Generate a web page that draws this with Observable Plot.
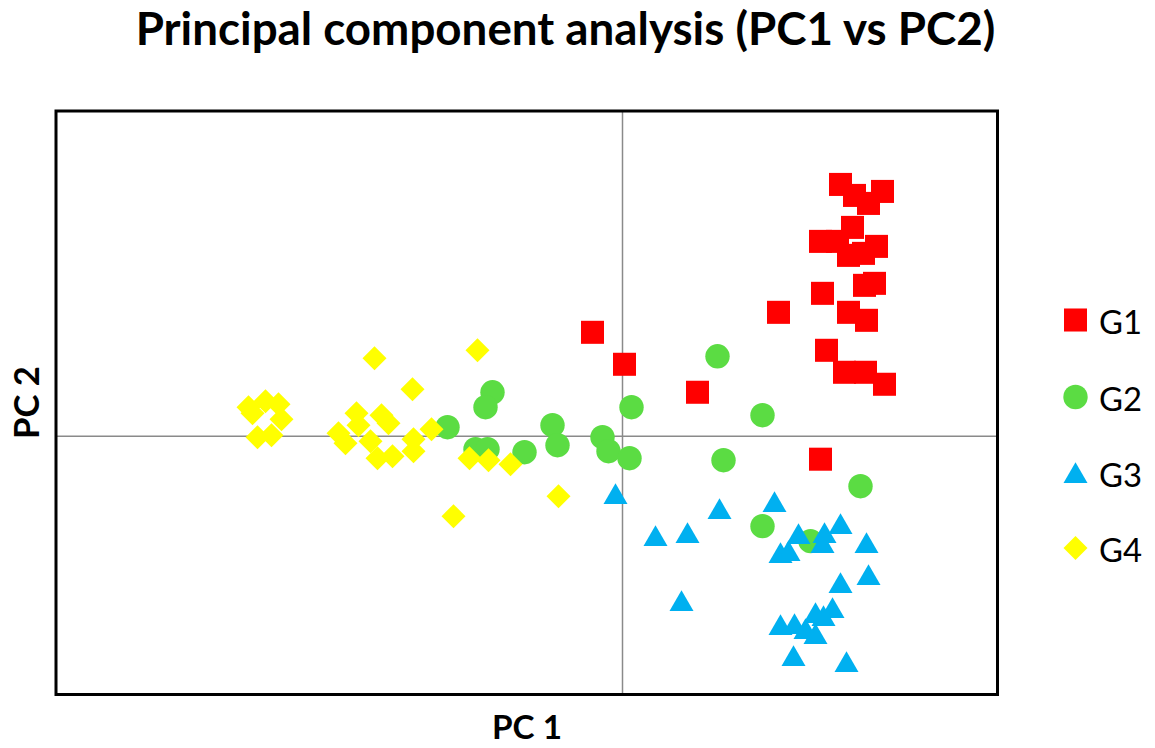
<!DOCTYPE html>
<html><head><meta charset="utf-8">
<script src="https://cdn.jsdelivr.net/npm/d3@7"></script>
<script src="https://cdn.jsdelivr.net/npm/@observablehq/plot@0.6"></script>
<style>html,body{margin:0;padding:0;background:#fff;} svg{display:block;}</style>
</head><body><div id="chart"></div>
<script>
// ---- data (PC scores) ----
const groups = ["G1", "G2", "G3", "G4"];

const g1PC1 = [2.18, 2.32, 2.60, 2.46, 2.30, 1.98, 2.15, 2.54, 2.26, 2.41, 2.42, 2.52, 2.00, 1.56, 2.26, 2.44, 2.04, 2.22, 2.43, 2.62, -0.30, 0.02, 0.75, 1.98];
const g1PC2 = [2.52, 2.41, 2.45, 2.33, 2.09, 1.95, 1.95, 1.90, 1.81, 1.83, 1.51, 1.53, 1.43, 1.24, 1.24, 1.16, 0.86, 0.64, 0.64, 0.52, 1.04, 0.72, 0.44, -0.23];

const g2PC1 = [0.95, 0.09, 1.40, -0.20, -0.14, 0.07, 1.01, 2.38, 1.40, 1.88, -1.30, -1.37, -1.75, -1.47, -1.35, -0.98, -0.70, -0.65];
const g2PC2 = [0.80, 0.29, 0.21, -0.01, -0.15, -0.22, -0.24, -0.50, -0.90, -1.05, 0.44, 0.29, 0.09, -0.13, -0.13, -0.16, 0.11, -0.09];

const g3PC1 = [-0.07, 0.97, 1.52, 0.33, 0.65, 1.76, 1.58, 1.66, 2.02, 2.00, 2.18, 2.44, 2.46, 2.18, 0.59, 1.58, 1.72, 1.93, 2.10, 2.01, 1.83, 1.93, 1.71, 2.24];
const g3PC2 = [-0.61, -0.76, -0.69, -1.03, -1.00, -1.01, -1.20, -1.18, -1.00, -1.10, -0.91, -1.10, -1.42, -1.50, -1.68, -1.92, -1.91, -1.80, -1.75, -1.83, -1.96, -2.01, -2.23, -2.29];

const g4PC1 = [-2.48, -2.10, -3.74, -3.57, -3.44, -3.70, -3.41, -3.65, -3.51, -2.84, -2.66, -2.64, -2.77, -2.41, -2.34, -2.52, -2.45, -2.30, -2.09, -2.09, -1.91, -1.45, -1.53, -1.34, -1.12, -0.64, -1.69];
const g4PC2 = [0.78, 0.47, 0.29, 0.35, 0.32, 0.23, 0.17, -0.01, 0.01, 0.03, 0.23, 0.11, -0.07, 0.21, 0.13, -0.05, -0.22, -0.20, -0.03, -0.15, 0.07, 0.86, -0.22, -0.24, -0.28, -0.60, -0.80];

const pc1Domain = [-5.665, 3.75];
const pc2Domain = [-2.585, 3.255];

// ---- styles ----
const colors = ["#FF0000", "#5BDC43", "#00B0F0", "#FFFF00"];
const symbols = ["square", "circle", "triangle", "diamond2"];
const radii = [13, 12.2, 8.9, 10.8];

const xs = [g1PC1, g2PC1, g3PC1, g4PC1];
const ys = [g1PC2, g2PC2, g3PC2, g4PC2];
const points = groups.map((g, i) => xs[i].map((v, j) => ({group: g, pc1: v, pc2: ys[i][j]})));

const W = 1155, H = 748;
const FONT = "Lato, 'Open Sans', sans-serif";

const chart = Plot.plot({
  width: W, height: H,
  marginLeft: 55.5, marginRight: 158, marginTop: 110.5, marginBottom: 54,
  x: {domain: pc1Domain, axis: null},
  y: {domain: pc2Domain, axis: null},
  style: {background: "white", fontFamily: FONT, overflow: "visible"},
  marks: [
    Plot.ruleX([0], {stroke: "#8a8a8a", strokeWidth: 1.5}),
    Plot.ruleY([0], {stroke: "#8a8a8a", strokeWidth: 1.5}),
    ...groups.map((g, i) => Plot.dot(points[i], {
      x: "pc1", y: "pc2", symbol: symbols[i], fill: colors[i], r: radii[i], stroke: "none"
    })),
    Plot.frame({stroke: "black", strokeWidth: 3})
  ]
});
document.getElementById("chart").appendChild(chart);

const svg = d3.select(chart);
function fit(sel, target) {
  const w = sel.node().getComputedTextLength();
  const fs = parseFloat(sel.attr("font-size"));
  if (w > 0) sel.attr("font-size", fs * target / w);
}

const title = svg.append("text")
  .attr("x", 565.5).attr("y", 45)
  .attr("text-anchor", "middle")
  .attr("font-family", FONT).attr("font-weight", 700).attr("font-size", 36)
  .attr("fill", "black")
  .text("Principal component analysis (PC1 vs PC2)");
fit(title, 860);

const xl = svg.append("text")
  .attr("x", 527).attr("y", 739)
  .attr("text-anchor", "middle")
  .attr("font-family", FONT).attr("font-weight", 700).attr("font-size", 30)
  .attr("fill", "black").text("PC 1");
fit(xl, 70);

const yl = svg.append("text")
  .attr("transform", "translate(39,402.5) rotate(-90)")
  .attr("text-anchor", "middle")
  .attr("font-family", FONT).attr("font-weight", 700).attr("font-size", 30)
  .attr("fill", "black").text("PC 2");
fit(yl, 73);

// legend
const legendY = [320, 397, 476, 548];
const legendBase = [334, 411, 487, 562];
groups.forEach((g, i) => {
  const sym = [d3.symbolSquare, d3.symbolCircle, d3.symbolTriangle, d3.symbolDiamond2][i];
  svg.append("path")
    .attr("transform", `translate(1075.5,${legendY[i]})`)
    .attr("d", d3.symbol(sym, radii[i] * radii[i] * Math.PI)())
    .attr("fill", colors[i]);
  const t = svg.append("text")
    .attr("x", 1099).attr("y", legendBase[i])
    .attr("text-anchor", "start")
    .attr("font-family", FONT).attr("font-size", 36)
    .attr("fill", "black").text(g);
  fit(t, 43);
});
</script>
</body></html>
